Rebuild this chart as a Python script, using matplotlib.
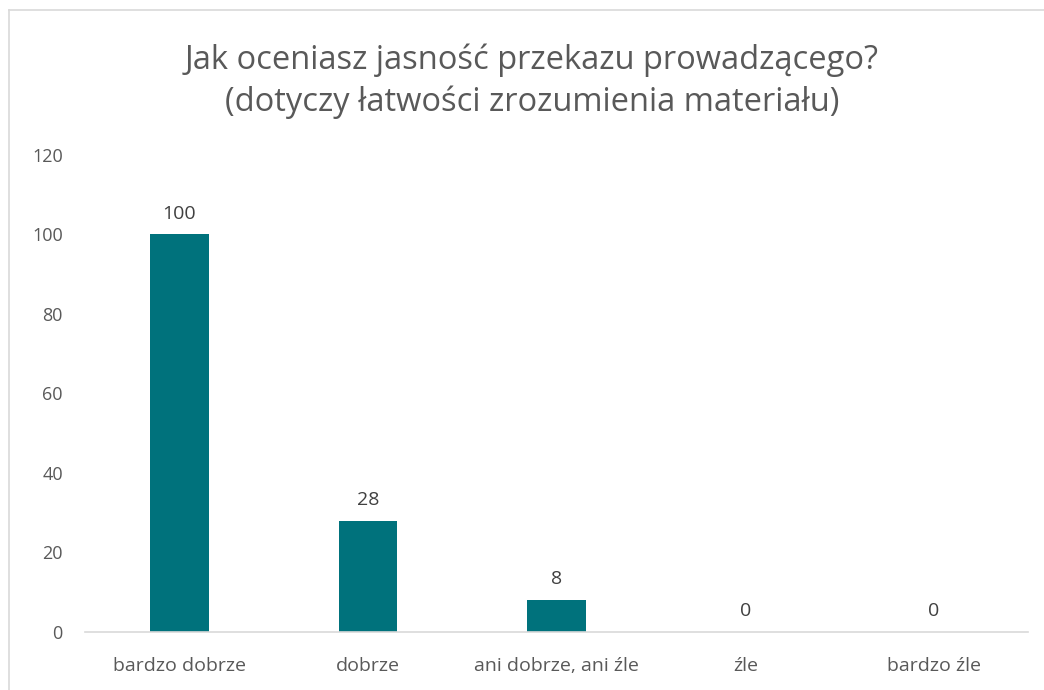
import matplotlib.pyplot as plt
from matplotlib.lines import Line2D

categories = ["bardzo dobrze", "dobrze", "ani dobrze, ani źle", "źle", "bardzo źle"]
values = [100, 28, 8, 0, 0]
yticks = [0, 20, 40, 60, 80, 100, 120]

plt.rcParams['font.family'] = ['Open Sans', 'DejaVu Sans']
grey = '#595959'

fig = plt.figure(figsize=(10.44, 6.90), dpi=100)
ax = fig.add_axes([0.0814, 0.0841, 0.9036, 0.6913])

x = range(len(categories))
bars = ax.bar(x, values, width=0.31, color='#00727C', zorder=2)
for xi, v in zip(x, values):
    ax.text(xi, v + 3, str(v), ha='center', va='bottom', fontsize=14, color='#404040')

ax.set_xlim(-0.5, len(categories) - 0.5)
ax.set_ylim(0, 120)
ax.set_yticks(yticks)
ax.set_xticks(list(x))
ax.set_xticklabels(categories)
ax.tick_params(axis='both', length=0, labelcolor=grey)
ax.tick_params(axis='y', pad=16, labelsize=13)
ax.tick_params(axis='x', pad=18, labelsize=14)
for s in ['top', 'right', 'left']:
    ax.spines[s].set_visible(False)
ax.spines['bottom'].set_color('#d9d9d9')
ax.spines['bottom'].set_linewidth(1.2)

fig.text(0.5096, 0.8826, "Jak oceniasz jasność przekazu prowadzącego?\n(dotyczy łatwości zrozumienia materiału)",
         ha='center', va='center', fontsize=23.5, color=grey, linespacing=1.32)

# chart border
fig.add_artist(Line2D([9 / 1044, 9 / 1044], [0, 1 - 10 / 690], color='#d9d9d9', lw=1.2))
fig.add_artist(Line2D([9 / 1044, 1], [1 - 10 / 690, 1 - 10 / 690], color='#d9d9d9', lw=1.2))

fig.savefig('out.png', dpi=100)
